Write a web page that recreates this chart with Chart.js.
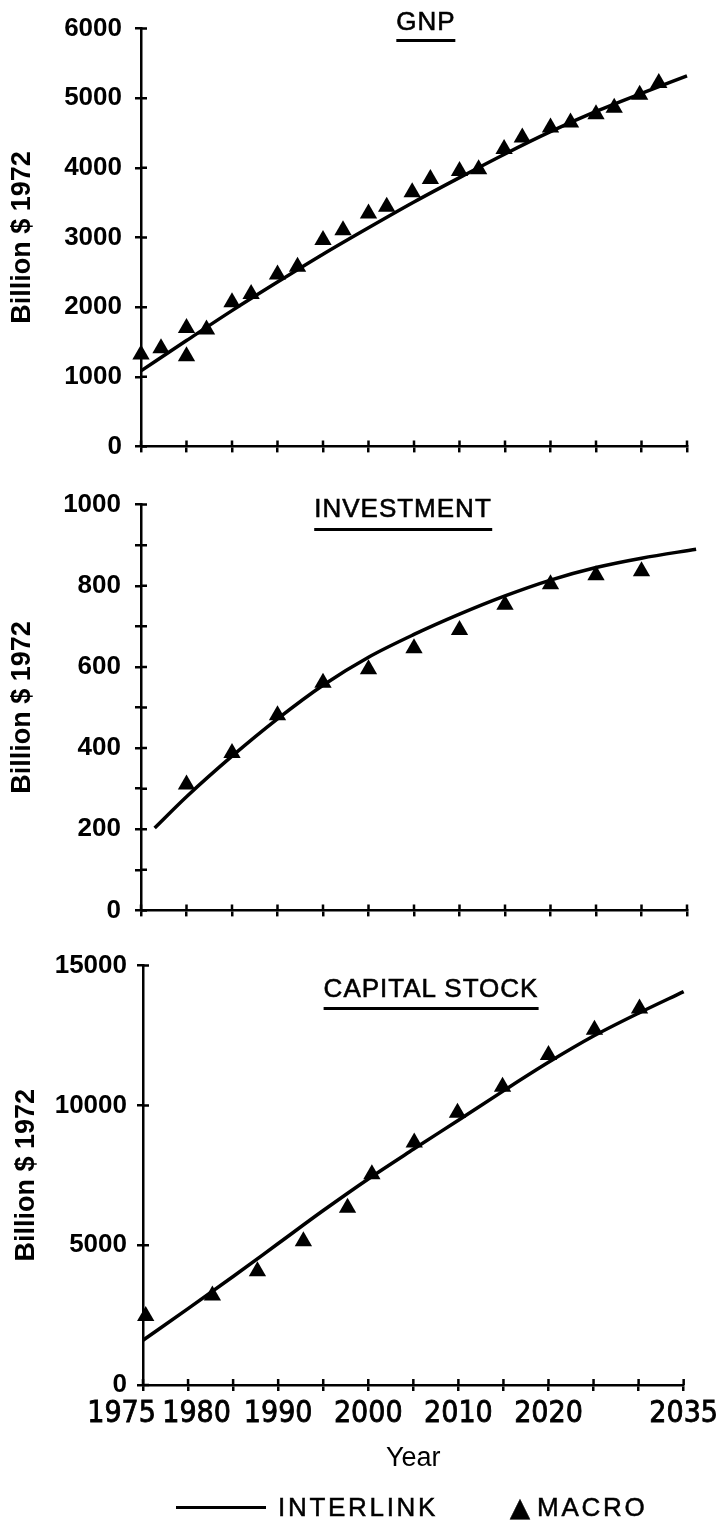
<!DOCTYPE html>
<html>
<head>
<meta charset="utf-8">
<script src="https://cdn.jsdelivr.net/npm/chart.js@4.4.1/dist/chart.umd.min.js"></script>
<style>
  body { margin: 0; background: #fff; }
  #page { position: relative; width: 723px; height: 1525px; overflow: hidden; background: #fff; color: #000;
          font-family: 'Liberation Sans', Arial, sans-serif; }
  canvas { position: absolute; left: 0; }
  .title { position: absolute; font-size: 26px; line-height: 1; letter-spacing: 1px; white-space: nowrap;
           -webkit-text-stroke: 0.6px #000; border-bottom: 3px solid #000; transform: translateX(-50%); }
  #legend { position: absolute; left: 176px; top: 1492px; font-size: 26px; line-height: 30px; letter-spacing: 2.7px;
            -webkit-text-stroke: 0.5px #000; display: flex; align-items: center; white-space: nowrap; }
  #legend .swatch { width: 90px; border-top: 3px solid #000; margin-right: 12px; }
  #legend .tri { font-family: 'DejaVu Sans', sans-serif; font-size: 26px; letter-spacing: 0; margin: 0 7px 0 72px; }
</style>
</head>
<body>
<div id="page">
  <canvas id="gnpChart" width="723" height="475" style="top:0"></canvas>
  <canvas id="invChart" width="723" height="465" style="top:475px"></canvas>
  <canvas id="capChart" width="723" height="585" style="top:940px"></canvas>

  <div class="title" style="left:426px; top:8px; padding-bottom:5px;">GNP</div>
  <div class="title" style="left:403px; top:495px; padding-bottom:7px;">INVESTMENT</div>
  <div class="title" style="left:431px; top:975px; padding-bottom:6px;">CAPITAL STOCK</div>

  <div id="legend"><span class="swatch"></span><span>INTERLINK</span><span class="tri">▲</span><span>MACRO</span></div>
</div>

<script>
// x axis
const tickYears = [1975, 1980, 1985, 1990, 1995, 2000, 2005, 2010, 2015, 2020, 2025, 2030, 2035];
const yearLabels = [1975, 1980, 1990, 2000, 2010, 2020, 2035];

// GNP
const gnpLineYears = [1975, 1980, 1985, 1990, 1995, 2000, 2005, 2010, 2015, 2020, 2025, 2030, 2035];
const gnpLine = [1085, 1520, 1950, 2360, 2760, 3140, 3510, 3860, 4200, 4520, 4810, 5070, 5320];
const gnpMacroYears = [1975, 1977.2, 1980, 1980, 1982.2, 1985, 1987.1, 1990, 1992.2, 1995, 1997.2, 2000, 2002,
                       2004.8, 2006.8, 2010, 2012.1, 2014.9, 2016.9, 2020, 2022.2, 2025, 2027, 2029.8, 2031.9];
const gnpMacro = [1320, 1410, 1700, 1295, 1680, 2070, 2190, 2470, 2580, 2965, 3105, 3345, 3440,
                  3650, 3840, 3955, 3980, 4270, 4435, 4580, 4650, 4770, 4865, 5050, 5220];

// Investment
const invLineYears = [1976.5, 1980, 1985, 1990, 1995, 2000, 2005, 2010, 2015, 2020, 2025, 2030, 2036];
const invLine = [203, 280, 380, 472, 555, 624, 680, 730, 775, 814, 845, 868, 890];
const invMacroYears = [1980, 1985, 1990, 1995, 2000, 2005, 2010, 2015, 2020, 2025, 2030];
const invMacro = [310, 388, 481, 561, 594, 646, 691, 753, 804, 826, 836];

// Capital stock
const capLineYears = [1975, 1980, 1985, 1990, 1995, 2000, 2005, 2010, 2015, 2020, 2025, 2030, 2035];
const capLine = [1600, 2730, 3880, 5060, 6240, 7370, 8430, 9470, 10520, 11540, 12480, 13300, 14070];
const capMacroYears = [1975.3, 1982.7, 1987.7, 1992.8, 1997.7, 2000.4, 2005.1, 2009.9, 2014.9, 2020, 2025.1, 2030.1];
const capMacro = [2470, 3200, 4070, 5140, 6340, 7540, 8670, 9740, 10670, 11800, 12710, 13470];

const pts = (xs, ys) => xs.map((x, i) => ({ x: x, y: ys[i] }));

// ticks that cross the axis line (Chart.js only draws the outer half)
const crossTicks = {
    id: 'crossTicks',
    afterDraw(chart) {
        const { ctx, chartArea, scales } = chart;
        ctx.save();
        ctx.strokeStyle = '#000';
        ctx.lineWidth = 2.5;
        ctx.beginPath();
        scales.x.ticks.forEach(t => {
            const px = scales.x.getPixelForValue(t.value);
            ctx.moveTo(px, chartArea.bottom);
            ctx.lineTo(px, chartArea.bottom - 6);
        });
        scales.y.ticks.forEach(t => {
            const py = scales.y.getPixelForValue(t.value);
            ctx.moveTo(chartArea.left, py);
            ctx.lineTo(chartArea.left + 6, py);
        });
        ctx.stroke();
        ctx.restore();
    }
};

Chart.defaults.color = '#000';
Chart.defaults.font.family = "'Liberation Sans', Arial, sans-serif";

function makePanel(id, p) {
    // 1975 and 1980 sit one tick apart, so they are nudged apart like in the print
    const xTicks = p.showYears ? {
        autoSkip: false, maxRotation: 0, padding: 5,
        textStrokeColor: '#000', textStrokeWidth: 0.8,
        font: { family: "'Liberation Sans Narrow', 'DejaVu Sans Condensed', 'Liberation Sans', sans-serif", size: 30 },
        callback: v => {
            if (!yearLabels.includes(v)) return '';
            if (v === 1975) return String(v) + '     ';
            if (v === 1980) return '  ' + String(v);
            return String(v);
        }
    } : { display: false };

    return new Chart(document.getElementById(id), {
        type: 'line',
        data: {
            datasets: [{
                label: 'MACRO',
                data: pts(p.macroYears, p.macro),
                showLine: false,
                pointStyle: 'triangle',
                pointRadius: 10,
                pointBackgroundColor: '#000',
                pointBorderWidth: 0,
                clip: false
            }, {
                label: 'INTERLINK',
                data: pts(p.lineYears, p.line),
                borderColor: '#000',
                borderWidth: 3.5,
                pointRadius: 0,
                cubicInterpolationMode: 'monotone',
                clip: false
            }]
        },
        options: {
            responsive: false,
            animation: false,
            layout: { padding: { top: p.top, right: p.right, left: 0, bottom: 0 } },
            plugins: { legend: { display: false }, tooltip: { enabled: false } },
            scales: {
                x: {
                    type: 'linear', min: 1975, max: 2035,
                    afterBuildTicks: s => { s.ticks = tickYears.map(v => ({ value: v })); },
                    grid: { drawOnChartArea: false, color: '#000', lineWidth: 2.5, tickLength: 6 },
                    border: { color: '#000', width: 2.5 },
                    ticks: xTicks,
                    title: p.showYears ? {
                        display: true, text: 'Year',
                        font: { family: "'Liberation Sans', Arial, sans-serif", size: 27 },
                        padding: { top: 0, bottom: 50 }
                    } : { display: false },
                    afterFit: s => { s.height = p.xHeight; }
                },
                y: {
                    min: 0, max: p.yMax,
                    ticks: {
                        stepSize: p.yStep, padding: p.tickPad,
                        font: { family: "'Liberation Sans', Arial, sans-serif", weight: 'bold', size: 26 },
                        callback: v => (v % p.yLabelEvery === 0 ? String(v) : '')
                    },
                    grid: { drawOnChartArea: false, color: '#000', lineWidth: 2.5, tickLength: 6 },
                    border: { color: '#000', width: 2.5 },
                    title: {
                        display: true, text: 'Billion $ 1972',
                        font: { family: "'Liberation Sans', Arial, sans-serif", weight: 'bold', size: 27 },
                        padding: { top: p.titlePad, bottom: 0 }
                    },
                    afterFit: s => { s.width = p.axisX; }
                }
            }
        },
        plugins: [crossTicks]
    });
}

makePanel('gnpChart', {
    lineYears: gnpLineYears, line: gnpLine, macroYears: gnpMacroYears, macro: gnpMacro,
    yMax: 6000, yStep: 1000, yLabelEvery: 1000,
    top: 28, right: 36, axisX: 141, xHeight: 21, tickPad: 13, titlePad: 6, showYears: false
});

makePanel('invChart', {
    lineYears: invLineYears, line: invLine, macroYears: invMacroYears, macro: invMacro,
    yMax: 1000, yStep: 100, yLabelEvery: 200,
    top: 25, right: 36, axisX: 141, xHeight: 17, tickPad: 14, titlePad: 6, showYears: false
});

makePanel('capChart', {
    lineYears: capLineYears, line: capLine, macroYears: capMacroYears, macro: capMacro,
    yMax: 15000, yStep: 5000, yLabelEvery: 5000,
    top: 25, right: 31, axisX: 143, xHeight: 140, tickPad: 10, titlePad: 10, showYears: true
});
</script>
</body>
</html>
